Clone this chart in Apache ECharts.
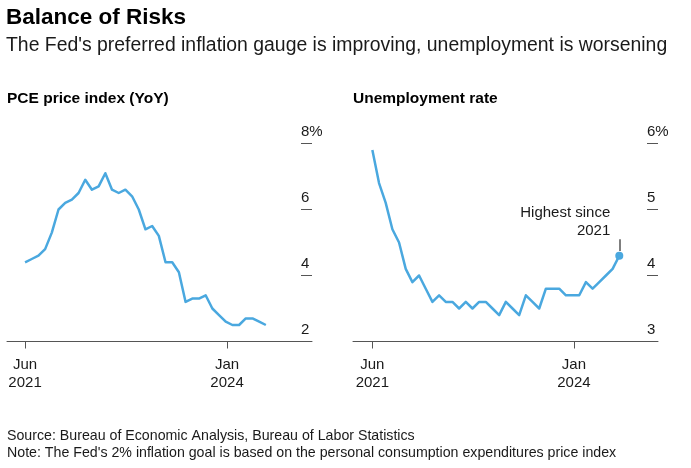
<!DOCTYPE html>
<html>
<head>
<meta charset="utf-8">
<script src="https://cdn.jsdelivr.net/npm/echarts@6/dist/echarts.min.js"></script>
<style>
  html, body { margin: 0; padding: 0; background: #ffffff; }
  #chart { width: 691px; height: 468px; }
</style>
</head>
<body>
<div id="chart"></div>
<script>
// ---- Data (monthly, first point = Jun 2021) ----
const pceMonthIndex = Array.from({length: 37}, (_, i) => i); // Jun 2021 .. Jun 2024
const pceValues = [4.4, 4.5, 4.6, 4.8, 5.3, 6.0, 6.2, 6.3, 6.5, 6.9, 6.6, 6.7, 7.1,
                   6.6, 6.5, 6.6, 6.4, 6.0, 5.4, 5.5, 5.2, 4.4, 4.4, 4.1, 3.2, 3.3,
                   3.3, 3.4, 3.0, 2.8, 2.6, 2.5, 2.5, 2.7, 2.7, 2.6, 2.5];
const unrateMonthIndex = Array.from({length: 38}, (_, i) => i); // Jun 2021 .. Jul 2024
const unrateValues = [5.9, 5.4, 5.1, 4.7, 4.5, 4.1, 3.9, 4.0, 3.8, 3.6, 3.7, 3.6, 3.6,
                      3.5, 3.6, 3.5, 3.6, 3.6, 3.5, 3.4, 3.6, 3.5, 3.4, 3.7, 3.6, 3.5,
                      3.8, 3.8, 3.8, 3.7, 3.7, 3.7, 3.9, 3.8, 3.9, 4.0, 4.1, 4.3];
const xTickPositions = [0, 30.2];
const xTickLabels = ['Jun\n2021', 'Jan\n2024'];
const pceTicks = [2, 4, 6, 8];
const unrateTicks = [3, 4, 5, 6];
const annotationText = 'Highest since\n2021';

const FONT = "'Liberation Sans', Arial, Helvetica, sans-serif";
const LINE = '#4aa8df';
const AXIS = '#555555';
const TEXT = '#1a1a1a';

const chart = echarts.init(document.getElementById('chart'), null, {renderer: 'canvas'});

function xAxisCfg(gridIndex, min, max) {
  return {
    type: 'value', gridIndex, min, max,
    axisLine: {show: true, onZero: false, lineStyle: {color: AXIS, width: 1}},
    axisTick: {show: true, customValues: xTickPositions, length: 7, lineStyle: {color: AXIS, width: 1}},
    axisLabel: {
      show: true, customValues: xTickPositions, margin: 14,
      fontSize: 15, lineHeight: 18, color: TEXT, fontFamily: FONT,
      formatter: v => {
        const k = xTickPositions.findIndex(p => Math.abs(p - v) < 1e-6);
        return k >= 0 ? xTickLabels[k] : '';
      }
    },
    splitLine: {show: false}
  };
}
function yAxisCfg(gridIndex, ticks) {
  const mn = ticks[0], mx = ticks[ticks.length - 1];
  return {
    type: 'value', gridIndex, position: 'right', offset: -11,
    min: mn, max: mx, interval: ticks[1] - ticks[0],
    axisLine: {show: false, onZero: false},
    axisTick: {show: true, inside: false, length: 11, lineStyle: {color: AXIS, width: 1}},
    axisLabel: {
      show: true, margin: 0, align: 'left', verticalAlign: 'bottom',
      padding: [0, 0, 4, 0], lineHeight: 15,
      fontSize: 15, color: TEXT, fontFamily: FONT,
      formatter: v => (v === mx ? v + '%' : String(v))
    },
    splitLine: {show: false}
  };
}

const lastIdx = unrateMonthIndex[unrateMonthIndex.length - 1];
const lastVal = unrateValues[unrateValues.length - 1];

const option = {
  animation: false,
  backgroundColor: '#ffffff',
  textStyle: {fontFamily: FONT},
  title: [
    {text: 'Balance of Risks', left: 6, top: 6, padding: 0,
     textStyle: {fontSize: 22.5, fontWeight: 'bold', color: '#000', fontFamily: FONT}},
    {text: "The Fed's preferred inflation gauge is improving, unemployment is worsening", left: 6, top: 36, padding: 0,
     textStyle: {fontSize: 19.4, fontWeight: 'normal', color: TEXT, fontFamily: FONT}},
    {text: 'PCE price index (YoY)', left: 7, top: 91, padding: 0,
     textStyle: {fontSize: 15.5, fontWeight: 'bold', color: '#000', fontFamily: FONT}},
    {text: 'Unemployment rate', left: 353, top: 91, padding: 0,
     textStyle: {fontSize: 15.5, fontWeight: 'bold', color: '#000', fontFamily: FONT}},
    {text: 'Source: Bureau of Economic Analysis, Bureau of Labor Statistics', left: 7, top: 429, padding: 0,
     textStyle: {fontSize: 14.2, fontWeight: 'normal', color: TEXT, fontFamily: FONT}},
    {text: "Note: The Fed's 2% inflation goal is based on the personal consumption expenditures price index", left: 7, top: 446, padding: 0,
     textStyle: {fontSize: 14.2, fontWeight: 'normal', color: TEXT, fontFamily: FONT}}
  ],
  grid: [
    {left: 7, width: 305, top: 143.5, height: 198},
    {left: 353, width: 305, top: 143.5, height: 198}
  ],
  xAxis: [xAxisCfg(0, -2.7, 42.9), xAxisCfg(1, -2.9, 42.8)],
  yAxis: [yAxisCfg(0, pceTicks), yAxisCfg(1, unrateTicks)],
  series: [
    {
      type: 'line', xAxisIndex: 0, yAxisIndex: 0,
      data: pceMonthIndex.map((m, i) => [m, pceValues[i]]),
      showSymbol: false, symbol: 'none',
      lineStyle: {color: LINE, width: 2.5, join: 'round'},
      silent: true
    },
    {
      type: 'line', xAxisIndex: 1, yAxisIndex: 1,
      data: unrateMonthIndex.map((m, i) => [m, unrateValues[i]]),
      showSymbol: false, symbol: 'none',
      lineStyle: {color: LINE, width: 2.5, join: 'round'},
      silent: true,
      markPoint: {
        silent: true,
        data: [{
          coord: [lastIdx, lastVal], symbol: 'circle', symbolSize: 8,
          itemStyle: {color: LINE},
          label: {
            show: true, position: 'inside', formatter: annotationText,
            align: 'right', verticalAlign: 'bottom', offset: [-9, -16],
            fontSize: 15, lineHeight: 18, color: TEXT, fontFamily: FONT
          }
        }]
      },
      markLine: {
        silent: true, symbol: ['none', 'none'],
        label: {show: false},
        lineStyle: {color: AXIS, width: 1.5, type: 'solid'},
        data: [[{coord: [lastIdx, lastVal + 0.07]}, {coord: [lastIdx, lastVal + 0.25]}]]
      }
    }
  ]
};
chart.setOption(option);
</script>
</body>
</html>
